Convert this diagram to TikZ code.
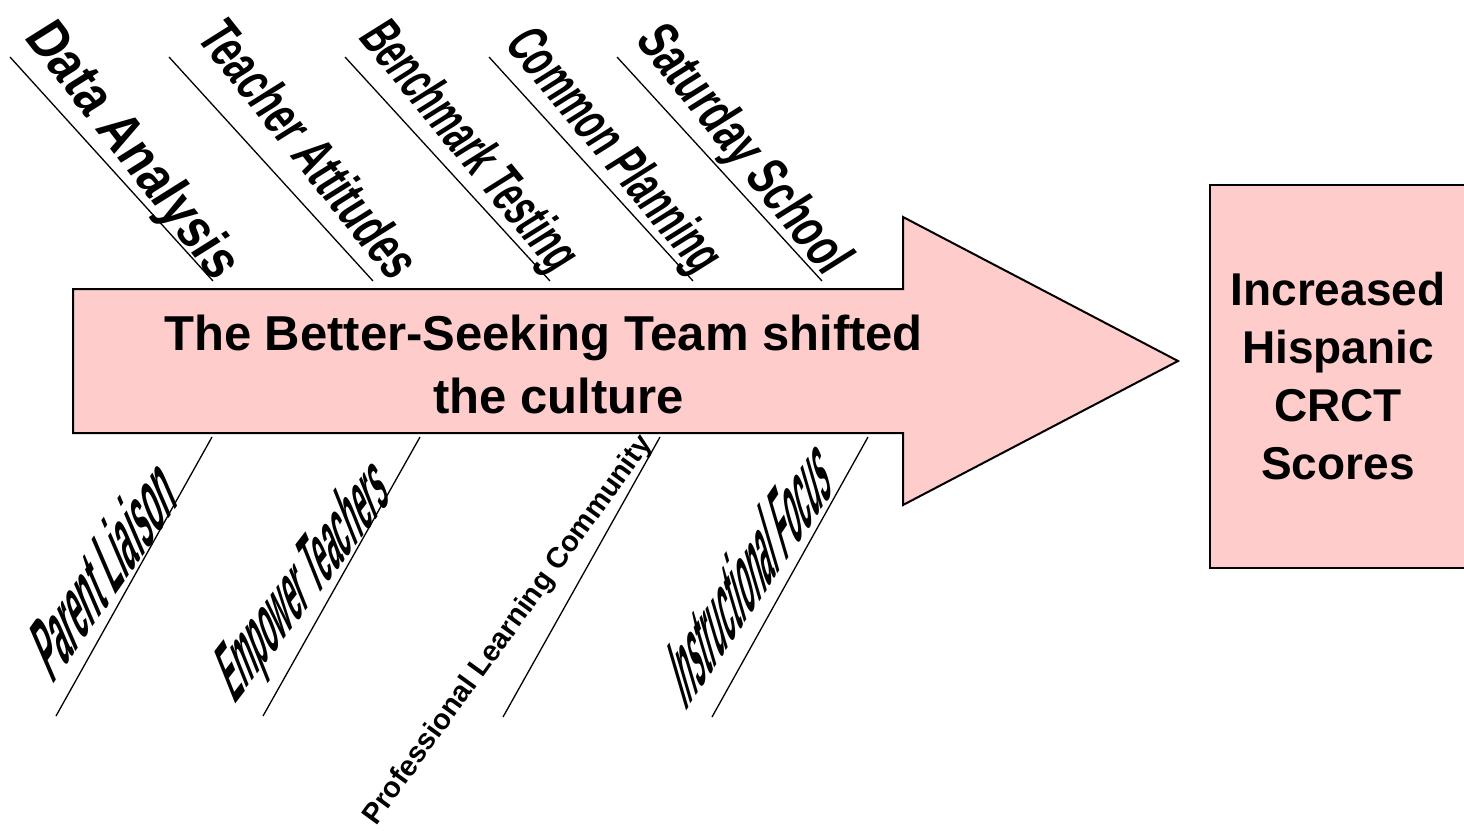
\documentclass[tikz,border=0pt]{standalone}
\usepackage{fontspec}
\setmainfont{Liberation Sans}
\definecolor{fishpink}{RGB}{255,204,204}
\begin{document}
\begin{tikzpicture}[x=1pt,y=-1pt,
  bone/.style={line width=1.3pt, black},
  outline/.style={line width=2pt, draw=black, fill=fishpink, line join=miter},
  bonetext/.style={anchor=base west, inner sep=0pt, outer sep=0pt,
                   transform shape, font=\bfseries},
  headtext/.style={align=center, inner sep=0pt,
                   font=\fontsize{49}{63}\selectfont\bfseries},
  effecttext/.style={outline, minimum width=256pt, minimum height=383pt,
                   align=center, inner sep=0pt,
                   font=\fontsize{46}{58}\selectfont\bfseries}]
\useasboundingbox (0,0) rectangle (1464,830);

% spine: the big arrow
\coordinate (bodyTL) at (73,289);
\coordinate (bodyTR) at (903,289);
\coordinate (headT)  at (903,217);
\coordinate (tip)    at (1178,361);
\coordinate (headB)  at (903,505);
\coordinate (bodyBR) at (903,433);
\coordinate (bodyBL) at (73,433);
\draw[outline] (bodyTL) -- (bodyTR) -- (headT) -- (tip) -- (headB)
  -- (bodyBR) -- (bodyBL) -- cycle;

\node[headtext] (spine) at (543.5,364.5)
  {The Better-Seeking Team shifted\\\hspace*{30pt}the culture};

% effect box
\node[effecttext] (effect) at (1338,376.5)
  {Increased\\Hispanic\\CRCT\\Scores};

% upper bones
\coordinate (b1a) at (10,57);  \coordinate (b1b) at (213,281);
\coordinate (b2a) at (169,57); \coordinate (b2b) at (373,281);
\coordinate (b3a) at (345,57); \coordinate (b3b) at (550,281);
\coordinate (b4a) at (489,57); \coordinate (b4b) at (693,281);
\coordinate (b5a) at (617,57); \coordinate (b5b) at (822,281);
\foreach \i in {1,...,5} \draw[bone] (b\i a) -- (b\i b);

% lower bones
\coordinate (c1a) at (212,437); \coordinate (c1b) at (56,716);
\coordinate (c2a) at (420,437); \coordinate (c2b) at (263,716);
\coordinate (c3a) at (660,437); \coordinate (c3b) at (503,717);
\coordinate (c4a) at (868,437); \coordinate (c4b) at (712,717);
\foreach \i in {1,...,4} \draw[bone] (c\i a) -- (c\i b);

% upper bone labels (box normalised to 100pt x 10pt, then mapped by cm)
\node[bonetext, cm={1.90,-2.45,3.5,2.2,(0,0)}] (t1) at (24,37)
  {\resizebox{100pt}{10pt}{Data Analysis}};
\node[bonetext, cm={1.95,-2.45,3.5,2.2,(0,0)}] (t2) at (195,37)
  {\resizebox{100pt}{10pt}{Teacher Attitudes}};
\node[bonetext, cm={1.95,-2.37,3.5,2.2,(0,0)}] (t3) at (357,37)
  {\resizebox{100pt}{10pt}{Benchmark Testing}};
\node[bonetext, cm={1.93,-2.32,3.5,2.2,(0,0)}] (t4) at (503,44)
  {\resizebox{100pt}{10pt}{Common Planning}};
\node[bonetext, cm={1.90,-2.37,3.5,2.2,(0,0)}] (t5) at (634,40)
  {\resizebox{100pt}{10pt}{Saturday School}};

% lower bone labels
\node[bonetext, cm={1.27,1.80,-2.5,5.8,(0,0)}] (l1) at (52,685)
  {\resizebox{100pt}{10pt}{Parent Liaison}};
\node[bonetext, cm={1.57,2.05,-2.2,5.5,(0,0)}] (l2) at (234,705)
  {\resizebox{100pt}{10pt}{Empower Teachers}};
\node[bonetext, rotate=54.1, font=\fontsize{29}{30}\selectfont\bfseries]
  (l3) at (376,826) {Professional Learning Community};
\node[bonetext, cm={1.48,2.20,-2.0,6.8,(0,0)}] (l4) at (685,712)
  {\resizebox{100pt}{10pt}{Instructional Focus}};
\end{tikzpicture}
\end{document}
